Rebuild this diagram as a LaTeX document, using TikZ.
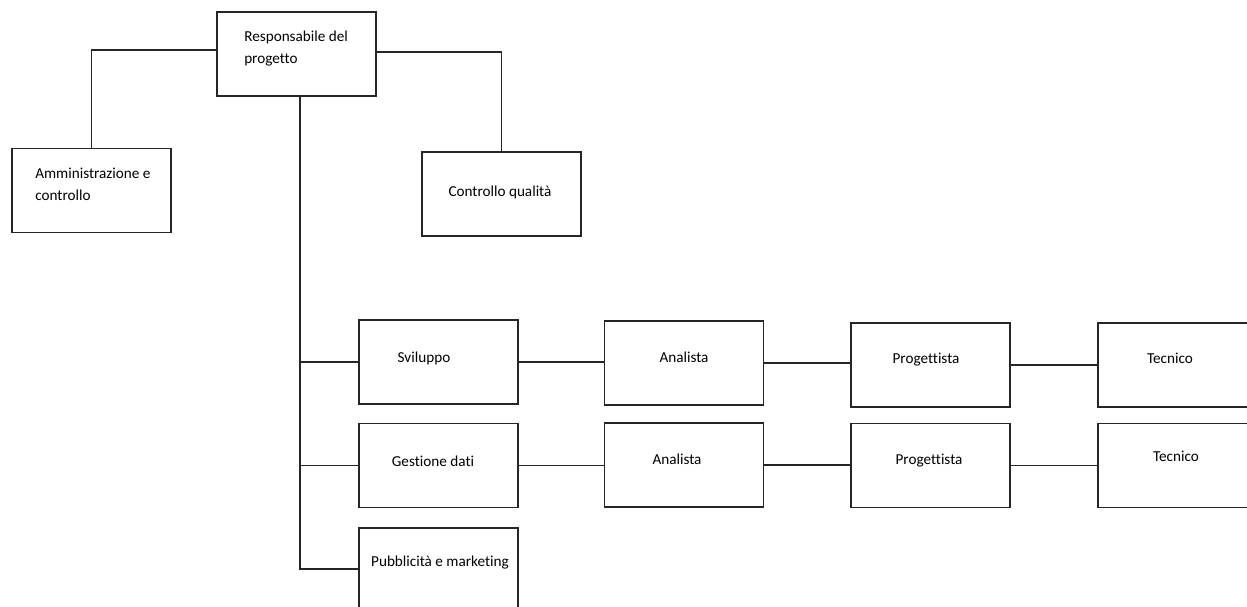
\documentclass[tikz,border=0pt]{standalone}
\usepackage{fontspec}
\setmainfont{Carlito}[Ligatures={NoCommon}]
\begin{document}
\begin{tikzpicture}[x=0.75pt,y=-0.75pt,
  box/.style={draw=black!85, line width=1pt, fill=white,
    minimum width=119.25pt, minimum height=63pt, inner sep=0pt, outer sep=0pt},
  lbl/.style={font=\fontsize{11.4}{16.5}\selectfont, text=black,
    inner sep=0pt, align=left},
  link/.style={draw=black!85, line width=1pt}]
\clip (0,0) rectangle (1247,607);
\fill[white] (0,0) rectangle (1247,607);

% boxes
\node[box] (resp) at (296.5,54) {};
\node[box] (adm)  at (91.5,190.5) {};
\node[box] (cq)   at (501.5,194) {};
\node[box] (sv)   at (438.5,362) {};
\node[box] (gd)   at (438.5,465.5) {};
\node[box] (pub)  at (438.5,570) {};
\node[box] (an1)  at (684,363) {};
\node[box] (an2)  at (684,465) {};
\node[box] (pr1)  at (930.5,365) {};
\node[box] (pr2)  at (930.5,465.5) {};
\node[box] (te1)  at (1177.5,365) {};
\node[box] (te2)  at (1177.5,465.5) {};

% texts
\node[lbl, anchor=west] (tresp) at (244,49) {Responsabile del\\progetto};
\node[lbl, anchor=west] (tadm)  at (35,184) {Amministrazione e\\controllo};
\node[lbl] (tcq)  at (500,192) {Controllo qualità};
\node[lbl] (tsv)  at (424,358) {Sviluppo};
\node[lbl] (tgd)  at (433,461) {Gestione dati};
\node[lbl] (tpub) at (440,563) {Pubblicità e marketing};
\node[lbl] (tan1) at (684,357) {Analista};
\node[lbl] (tan2) at (677,459) {Analista};
\node[lbl] (tpr1) at (926,360) {Progettista};
\node[lbl] (tpr2) at (929,461) {Progettista};
\node[lbl] (tte1) at (1170,358) {Tecnico};
\node[lbl] (tte2) at (1176,456) {Tecnico};

% trunk under the project manager
\coordinate (trunk) at (300,569);

% connectors
\draw[link] ([yshift=3pt]resp.west) -| (adm.north);
\draw[link] ([yshift=1.5pt]resp.east) -| (cq.north);
\draw[link] (resp.south -| trunk) -- (trunk) -- (trunk -| pub.west);
\draw[link] (sv.west) -- (sv.west -| trunk);
\draw[link] (gd.west) -- (gd.west -| trunk);
\draw[link] (sv.east) -- (sv.east -| an1.west);
\draw[link] (gd.east) -- (gd.east -| an2.west);
\draw[link] (an1.east) -- (an1.east -| pr1.west);
\draw[link] (an2.east) -- (an2.east -| pr2.west);
\draw[link] (pr1.east) -- (pr1.east -| te1.west);
\draw[link] (pr2.east) -- (pr2.east -| te2.west);
\end{tikzpicture}
\end{document}
